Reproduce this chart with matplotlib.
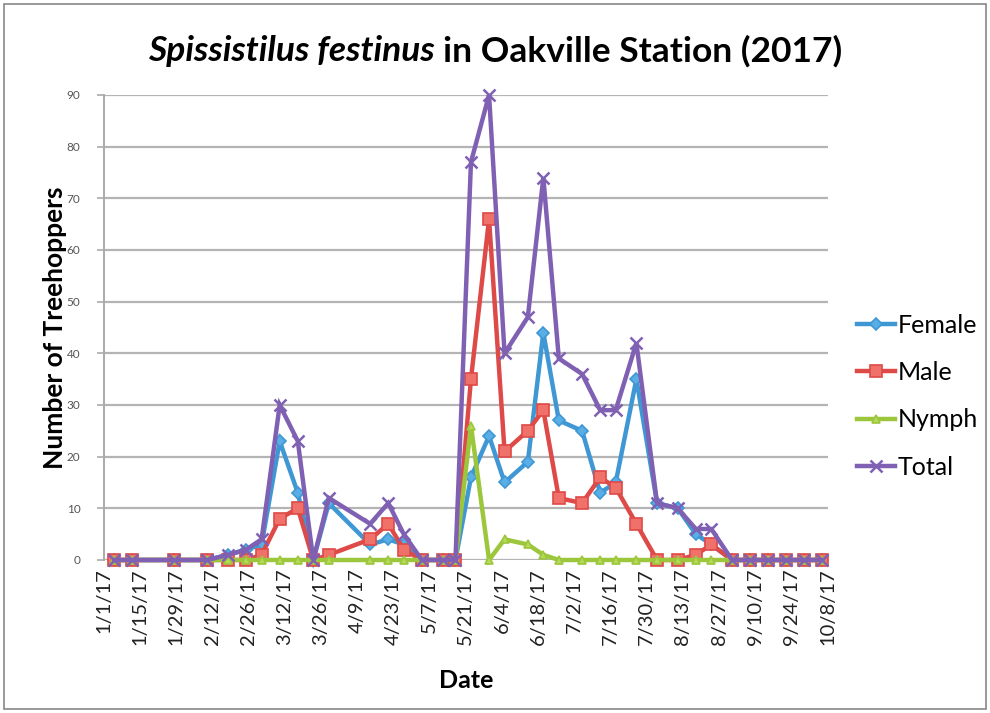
import matplotlib
matplotlib.use("Agg")
import matplotlib.pyplot as plt
import pandas as pd
from matplotlib.patches import Rectangle

plt.rcParams['font.family'] = ['Lato', 'DejaVu Sans']

dates = ['2017-01-05', '2017-01-12', '2017-01-28', '2017-02-10', '2017-02-18', '2017-02-25',
         '2017-03-03', '2017-03-10', '2017-03-17', '2017-03-23', '2017-03-29', '2017-04-14',
         '2017-04-21', '2017-04-27', '2017-05-04', '2017-05-12', '2017-05-17', '2017-05-23',
         '2017-05-30', '2017-06-05', '2017-06-14', '2017-06-20', '2017-06-26', '2017-07-05',
         '2017-07-12', '2017-07-18', '2017-07-26', '2017-08-03', '2017-08-11', '2017-08-18',
         '2017-08-24', '2017-09-01', '2017-09-08', '2017-09-15', '2017-09-22', '2017-09-29',
         '2017-10-06']
female = [0, 0, 0, 0, 1, 2, 3, 23, 13, 0, 11, 3, 4, 3, 0, 0, 0, 16, 24, 15, 19, 44, 27, 25,
          13, 15, 35, 11, 10, 5, 3, 0, 0, 0, 0, 0, 0]
male = [0, 0, 0, 0, 0, 0, 1, 8, 10, 0, 1, 4, 7, 2, 0, 0, 0, 35, 66, 21, 25, 29, 12, 11,
        16, 14, 7, 0, 0, 1, 3, 0, 0, 0, 0, 0, 0]
nymph = [0, 0, 0, 0, 0, 0, 0, 0, 0, 0, 0, 0, 0, 0, 0, 0, 0, 26, 0, 4, 3, 1, 0, 0,
         0, 0, 0, 0, 0, 0, 0, 0, 0, 0, 0, 0, 0]
total = [0, 0, 0, 0, 1, 2, 4, 30, 23, 0, 12, 7, 11, 5, 0, 0, 0, 77, 90, 40, 47, 74, 39, 36,
         29, 29, 42, 11, 10, 6, 6, 0, 0, 0, 0, 0, 0]

tick_labels = ['1/1/17', '1/15/17', '1/29/17', '2/12/17', '2/26/17', '3/12/17', '3/26/17',
               '4/9/17', '4/23/17', '5/7/17', '5/21/17', '6/4/17', '6/18/17', '7/2/17',
               '7/16/17', '7/30/17', '8/13/17', '8/27/17', '9/10/17', '9/24/17', '10/8/17']

x = pd.to_datetime(dates)
ticks = pd.to_datetime(tick_labels, format='%m/%d/%y')

fig = plt.figure(figsize=(9.9, 7.13), dpi=100)
ax = fig.add_axes([0.105, 0.2146, 0.731, 0.6522])

series = [
    ('Female', female, '#3f97d4', 'D', 6, '#59aee6'),
    ('Male', male, '#de4a47', 's', 8, '#f0706a'),
    ('Nymph', nymph, '#9cc63c', '^', 6, '#b5d95a'),
    ('Total', total, '#7f60b3', 'x', 8, '#7f60b3'),
]
for name, vals, col, mk, ms, fc in series:
    ax.plot(x, vals, color=col, lw=3.2, marker=mk, markersize=ms,
            markerfacecolor=fc, markeredgecolor=col, markeredgewidth=1.2 if mk != 'x' else 1.8,
            label=name, solid_joinstyle='miter', clip_on=False)

ax.set_xlim(pd.Timestamp('2017-01-01'), pd.Timestamp('2017-10-08'))
ax.set_ylim(0, 90)
ax.set_yticks(range(0, 91, 10))
ax.set_xticks(ticks)
ax.set_xticklabels(tick_labels, rotation=90, fontsize=14.5, color='#222222')
ax.tick_params(axis='y', labelsize=8.5, labelcolor='#555555', length=5, color='#aaaaaa',
               width=1.2, pad=12)
ax.tick_params(axis='x', length=0, pad=6)
ax.grid(axis='y', color='#b4b4b4', lw=1.6)
ax.set_axisbelow(True)
for s in ['top', 'right', 'bottom']:
    ax.spines[s].set_visible(False)
ax.spines['left'].set_color('#aaaaaa')
ax.spines['left'].set_linewidth(1.4)

ax.set_ylabel('Number of Treehoppers', fontsize=19, fontweight='bold', labelpad=0)
ax.set_xlabel('Date', fontsize=18, fontweight='bold', labelpad=17)

t1 = fig.text(0.146, 0.928, 'Spissistilus festinus', fontsize=25.5, fontweight='bold',
              fontstyle='italic', ha='left', va='center')
t2 = fig.text(0.5, 0.928, 'in Oakville Station (2017)', fontsize=25.5,
              fontweight='bold', ha='left', va='center')
fig.canvas.draw()
r = fig.canvas.get_renderer()
b1 = t1.get_window_extent(r)
b2 = t2.get_window_extent(r)
gap = 8
total_w = b1.width + gap + b2.width
start = 495 - total_w / 2
W = fig.bbox.width
t1.set_x(start / W)
t2.set_x((start + b1.width + gap) / W)

leg = ax.legend(loc='center left', bbox_to_anchor=(1.01, 0.352), frameon=False,
                fontsize=18, handlelength=1.5, handletextpad=0.1, labelspacing=0.97)

fig.patches.append(Rectangle((0.004, 0.006), 0.992, 0.988, transform=fig.transFigure,
                             fill=False, edgecolor='#888888', lw=1.2))

fig.savefig('out.png', dpi=100)
